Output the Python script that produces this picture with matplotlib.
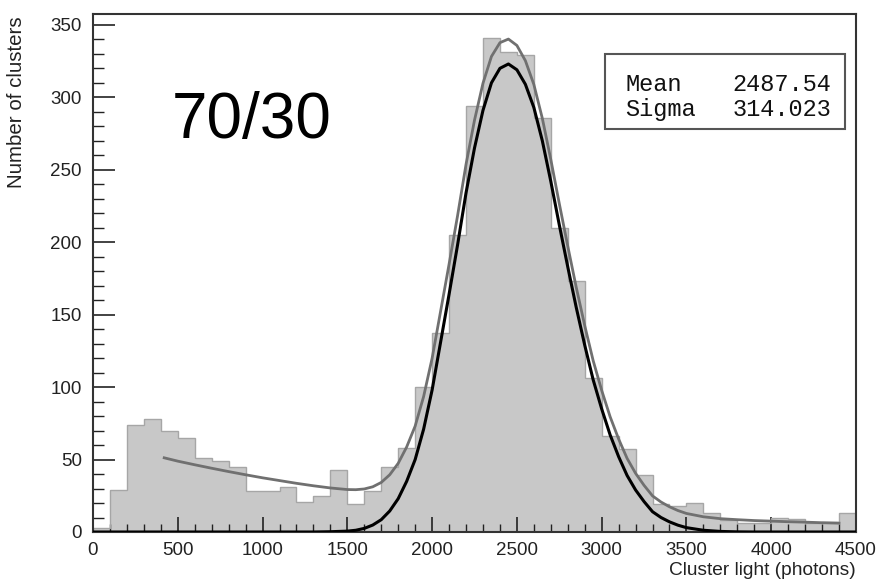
import matplotlib
matplotlib.use("Agg")
import matplotlib.pyplot as plt
from matplotlib.ticker import MultipleLocator
from matplotlib.patches import Rectangle

# ---------------- data ----------------
bin_width = 100
bin_left = list(range(0, 4500, 100))
counts = [3, 29, 74, 78, 70, 65, 51, 49, 45, 28,
          28, 31, 21, 25, 43, 19, 28, 45, 58, 100,
          137, 205, 294, 341, 331, 329, 286, 210, 173, 106,
          66, 57, 39, 19, 18, 20, 13, 8, 6, 6,
          10, 9, 6, 7, 13]

# Gaussian component of the fit (black curve)
black_x = [0, 1300, 1400, 1500, 1550, 1600, 1650, 1700, 1750, 1800,
           1850, 1900, 1950, 2000, 2050, 2100, 2150, 2200, 2250, 2300,
           2350, 2400, 2450, 2500, 2550, 2600, 2650, 2700, 2750, 2800,
           2850, 2900, 2950, 3000, 3050, 3100, 3150, 3200, 3250, 3300,
           3350, 3400, 3450, 3500, 3600, 3700, 3800, 3900, 4500]
black_y = [0, 0, 0.2, 0.6, 1.2, 2.5, 4.8, 8.5, 14.5, 23,
           35, 50, 71, 98, 131, 164, 198, 234, 265, 291,
           310, 320, 323, 319, 309, 293, 270, 242, 212, 183,
           155, 129, 105, 85, 67, 52, 39, 29, 21, 14,
           10, 7, 4.7, 3, 1.2, 0.4, 0.1, 0, 0]

# Total fit, Gaussian + background (grey curve)
gray_x = [420, 500, 600, 700, 800, 900, 1000, 1100, 1200, 1300,
          1400, 1500, 1550, 1600, 1650, 1700, 1750, 1800, 1850, 1900,
          1950, 2000, 2050, 2100, 2150, 2200, 2250, 2300, 2350, 2400,
          2450, 2500, 2550, 2600, 2650, 2700, 2750, 2800, 2850, 2900,
          2950, 3000, 3050, 3100, 3150, 3200, 3250, 3300, 3350, 3400,
          3450, 3500, 3600, 3700, 3800, 3900, 4000, 4100, 4200, 4300,
          4400]
gray_y = [51.2, 48.9, 46.4, 44.0, 41.7, 39.5, 37.4, 35.5, 33.6, 31.9,
          30.4, 29.3, 29.2, 29.7, 31.2, 34.2, 39.5, 47.4, 58.7, 73.1,
          93.5, 119.9, 152.3, 184.8, 218.2, 253.7, 284.2, 309.7, 328.2, 337.7,
          340.2, 335.8, 325.3, 308.9, 285.5, 257.1, 226.7, 197.3, 168.9, 142.5,
          118.2, 97.8, 79.5, 64.2, 50.8, 40.5, 32.2, 24.9, 20.7, 17.4,
          14.8, 12.8, 10.5, 9.2, 8.5, 7.9, 7.5, 7.1, 6.8, 6.4,
          6.1]

stat_names = ["Mean", "Sigma"]
stat_values = ["2487.54", "314.023"]
label_text = "70/30"

# ---------------- figure ----------------
W, H = 878, 581
fig = plt.figure(figsize=(W / 100, H / 100), dpi=100)
L, R, B, T = 93, 856, 532, 14
ax = fig.add_axes([L / W, 1 - B / H, (R - L) / W, (B - T) / H])

sans = "Liberation Sans"
mono = "Liberation Mono"

edges = bin_left + [bin_left[-1] + bin_width]
ax.bar(bin_left, counts, width=bin_width, align="edge",
       color="#c8c8c8", linewidth=0, zorder=1)
ax.stairs(counts, edges, color="#a6a6a6", linewidth=1.0, zorder=2)

ax.plot(gray_x, gray_y, color="#707070", linewidth=2.0, zorder=3,
        solid_joinstyle="round")
ax.plot(black_x, black_y, color="black", linewidth=2.2, zorder=4,
        solid_joinstyle="round")

ax.set_xlim(0, 4500)
ax.set_ylim(0, 357.5)

ax.xaxis.set_major_locator(MultipleLocator(500))
ax.xaxis.set_minor_locator(MultipleLocator(100))
ax.yaxis.set_major_locator(MultipleLocator(50))
ax.yaxis.set_minor_locator(MultipleLocator(10))

ax.tick_params(axis="x", which="major", direction="in", length=11,
               width=1.2, pad=7, labelsize=13.5, colors="#222222")
ax.tick_params(axis="x", which="minor", direction="in", length=5.5,
               width=1.0, colors="#222222")
ax.tick_params(axis="y", which="major", direction="in", length=16,
               width=1.2, pad=8, labelsize=13.5, colors="#222222")
ax.tick_params(axis="y", which="minor", direction="in", length=8,
               width=1.0, colors="#222222")
ax.tick_params(top=False, right=False, which="both")

for lab in ax.get_xticklabels() + ax.get_yticklabels():
    lab.set_fontfamily(sans)

for sp in ax.spines.values():
    sp.set_color("#333333")
    sp.set_linewidth(1.5)

ax.set_xlabel("Cluster light (photons)", fontsize=13.8, family=sans,
              color="#222222")
ax.xaxis.set_label_coords(1.0, -0.057)
ax.xaxis.label.set_horizontalalignment("right")
ax.set_ylabel("Number of clusters", fontsize=14.8, family=sans,
              color="#222222")
ax.yaxis.set_label_coords(-0.088, 0.996)
ax.yaxis.label.set_horizontalalignment("right")

ax.text(0.1035, 0.761, label_text, transform=ax.transAxes, fontsize=46,
        family=sans, ha="left", va="baseline", color="black")

# statistics box
box = Rectangle((0.671, 0.778), 0.3146, 0.145, transform=ax.transAxes,
                facecolor="white", edgecolor="#555555", linewidth=1.5,
                zorder=5)
ax.add_patch(box)
row_y = [0.852, 0.803]
for name, val, yy in zip(stat_names, stat_values, row_y):
    ax.text(0.698, yy, name, transform=ax.transAxes, family=mono,
            fontsize=17, ha="left", va="baseline", zorder=6,
            color="#111111")
    ax.text(0.968, yy, val, transform=ax.transAxes, family=mono,
            fontsize=17, ha="right", va="baseline", zorder=6,
            color="#111111")

fig.savefig("out.png", dpi=100)
